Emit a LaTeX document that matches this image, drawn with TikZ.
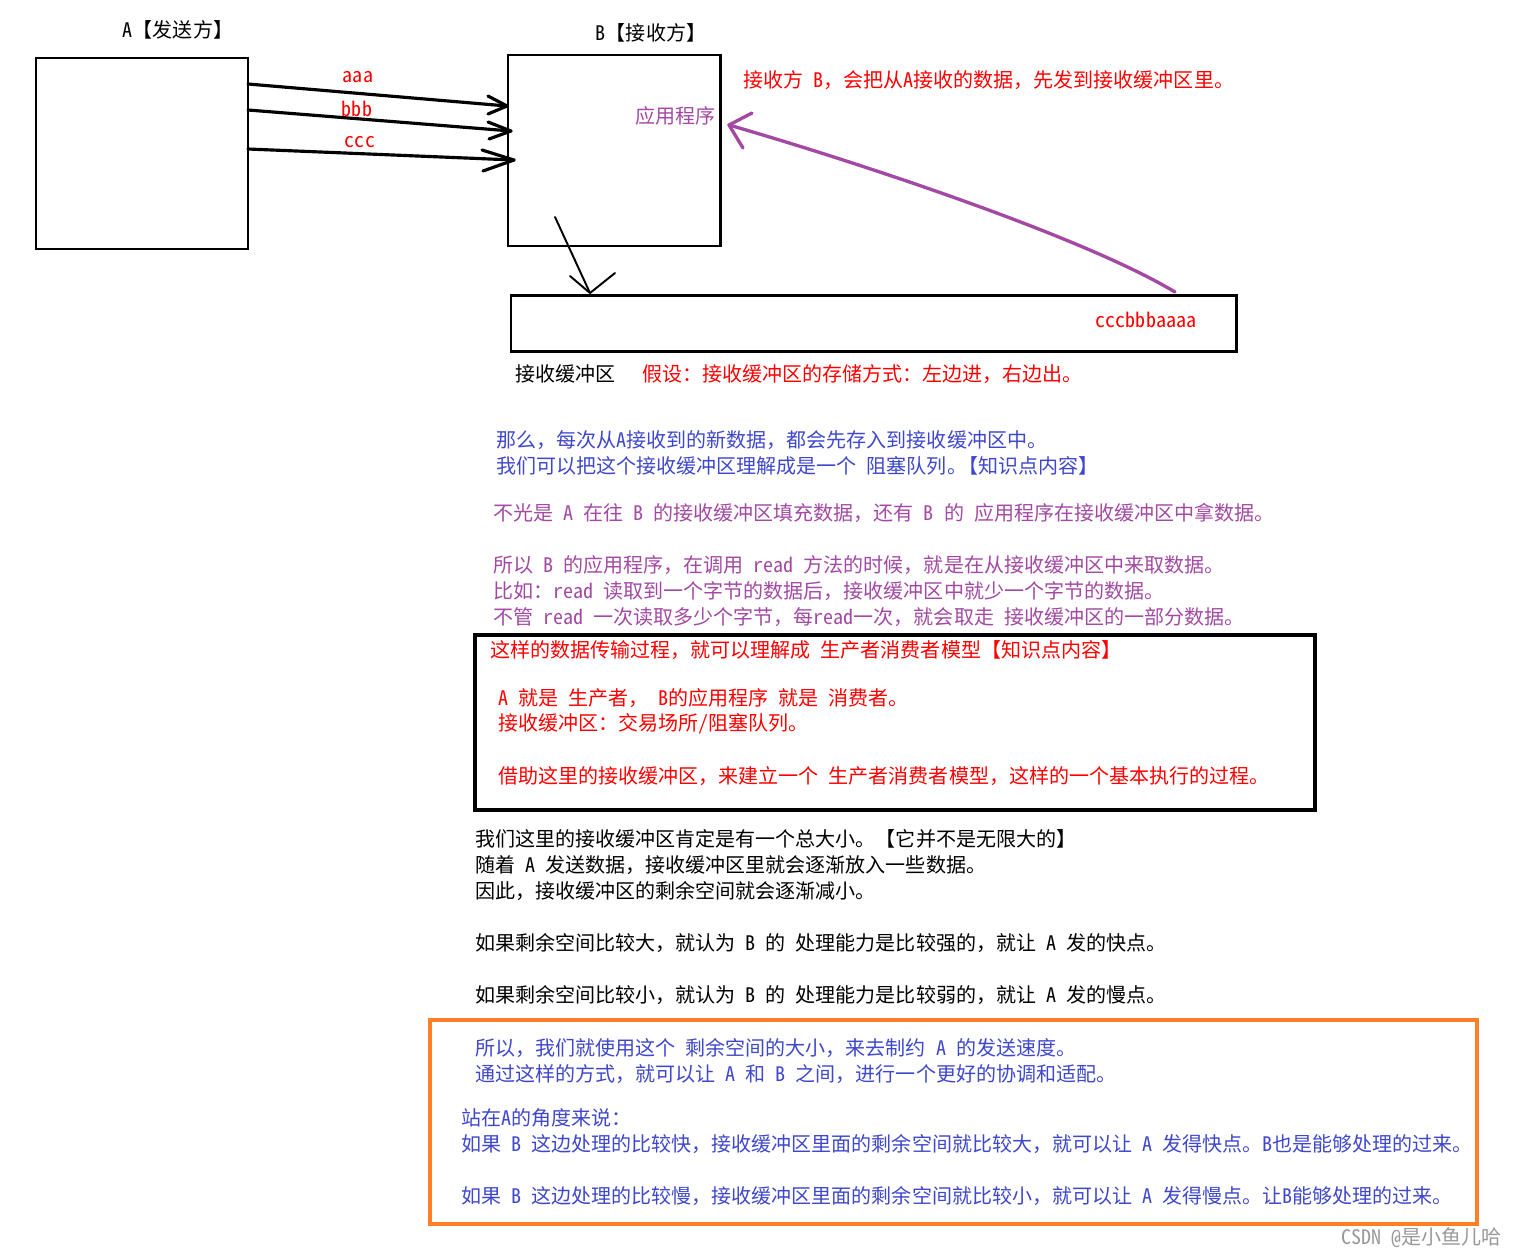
\documentclass[tikz,border=0pt]{standalone}
\usepackage{fontspec}
\setmainfont{Noto Sans CJK SC}[RawFeature=+hwid]
\newfontfamily\fullcjk{Noto Sans CJK SC}
\usetikzlibrary{arrows.meta}
\definecolor{pred}{HTML}{FF0000}
\definecolor{pblue}{HTML}{3F48CC}
\definecolor{ppurple}{HTML}{A349A4}
\definecolor{porange}{HTML}{FF7F27}
\newcommand\diagfont{\fontsize{11.4}{14}\selectfont\spaceskip=.5em\relax}
\catcode`，=\active
\def，{{\fullcjk\char"FF0C}}
\begin{document}
\begin{tikzpicture}[x=0.02cm,y=-0.02cm,
  txt/.style={anchor=west,inner sep=0pt,font=\diagfont},
  ctxt/.style={anchor=center,inner sep=0pt,font=\diagfont},
  thick box/.style={draw=black,line width=1.7pt},
  heavy box/.style={line width=2.4pt},
  shaft/.style={draw=black,line width=1.8pt,line cap=round,line join=round},
  thin shaft/.style={draw=black,line width=1.1pt,line cap=round,line join=round},
  purp/.style={draw=ppurple,line width=1.9pt,line cap=round,line join=round}]
\useasboundingbox (0,0) rectangle (1518,1258);
\fill[white] (0,0) rectangle (1518,1258);

% titles
\node[ctxt] (titleA) at (178,30) {A【发送方】};
\node[ctxt] (titleB) at (651,33) {B【接收方】};

% boxes
\draw[thick box] (36,58) rectangle (248,249);
\draw[thick box] (508,55) rectangle (720,246);
\draw[thick box] (511,295) rectangle (1236,351);

% data arrows A -> B
\coordinate (a1s) at (248,84);   \coordinate (a1t) at (507,106);
\coordinate (a1b1) at (488,96);  \coordinate (a1b2) at (488,114);
\coordinate (a2s) at (248,110);  \coordinate (a2t) at (511,131);
\coordinate (a2b1) at (488,122); \coordinate (a2b2) at (489,139);
\coordinate (a3s) at (248,149);  \coordinate (a3t) at (514,160);
\coordinate (a3b1) at (482,150); \coordinate (a3b2) at (483,171);
\draw[shaft] (a1s) -- (a1t);
\draw[shaft] (a1b1) -- (a1t) -- (a1b2);
\draw[shaft] (a2s) -- (a2t);
\draw[shaft] (a2b1) -- (a2t) -- (a2b2);
\draw[shaft] (a3s) -- (a3t);
\draw[shaft] (a3b1) -- (a3t) -- (a3b2);
\node[ctxt,text=pred] (laba) at (358,77) {aaa};
\node[ctxt,text=pred] (labb) at (357,109) {bbb};
\node[ctxt,text=pred] (labc) at (360,142) {ccc};

% B -> buffer arrow
\coordinate (ds) at (555,217); \coordinate (dt) at (590,293);
\coordinate (db1) at (570,276); \coordinate (db2) at (615,273);
\draw[thin shaft] (ds) -- (dt);
\draw[thin shaft] (db1) -- (dt) -- (db2);

% buffer -> app arrow (purple)
\coordinate (ps) at (1175,292); \coordinate (pt) at (729,125);
\coordinate (pb1) at (752,113); \coordinate (pb2) at (743,148);
\draw[purp] (ps) .. controls (1080,235) and (850,160) .. (pt);
\draw[purp] (pb1) -- (pt) -- (pb2);

\node[anchor=east,inner sep=0pt,font=\diagfont,text=ppurple] (app) at (716,116) {应用程序};
\node[txt,text=pred] (note1) at (743,80) {接收方 B，会把从A接收的数据，先发到接收缓冲区里。};
\node[ctxt,text=pred] (bufdata) at (1146,320) {cccbbbaaaa};
\node[txt] (buflabel) at (515,374) {接收缓冲区};
\node[txt,text=pred] (note2) at (642,374) {假设：接收缓冲区的存储方式：左边进，右边出。};

% blue lines
\node[txt,text=pblue] (b1) at (496,440) {那么，每次从A接收到的新数据，都会先存入到接收缓冲区中。};
\node[txt,text=pblue] (b2) at (496,466) {我们可以把这个接收缓冲区理解成是一个 阻塞队列。\hspace{-.45em}【知识点内容】};

% purple lines
\node[txt,text=ppurple] (p1) at (493,513) {不光是 A 在往 B 的接收缓冲区填充数据，还有 B 的 应用程序在接收缓冲区中拿数据。};
\node[txt,text=ppurple] (p2) at (493,565) {所以 B 的应用程序，在调用 read 方法的时候，就是在从接收缓冲区中来取数据。};
\node[txt,text=ppurple] (p3) at (493,591) {比如：read 读取到一个字节的数据后，接收缓冲区中就少一个字节的数据。};
\node[txt,text=ppurple] (p4) at (493,617) {不管 read 一次读取多少个字节，每read一次，就会取走 接收缓冲区的一部分数据。};

% black box
\draw[heavy box,draw=black] (475,635) rectangle (1315,810);
\node[txt,text=pred] (r1) at (490,650) {这样的数据传输过程，就可以理解成 生产者消费者模型【知识点内容】};
\node[txt,text=pred] (r2) at (498,698) {A 就是 生产者， B的应用程序 就是 消费者。};
\node[txt,text=pred] (r3) at (498,724) {接收缓冲区：交易场所/阻塞队列。};
\node[txt,text=pred] (r4) at (498,776) {借助这里的接收缓冲区，来建立一个 生产者消费者模型，这样的一个基本执行的过程。};

% black lines
\node[txt] (k1) at (475,839) {我们这里的接收缓冲区肯定是有一个总大小。【它并不是无限大的】};
\node[txt] (k2) at (475,865) {随着 A 发送数据，接收缓冲区里就会逐渐放入一些数据。};
\node[txt] (k3) at (475,891) {因此，接收缓冲区的剩余空间就会逐渐减小。};
\node[txt] (k4) at (475,943) {如果剩余空间比较大，就认为 B 的 处理能力是比较强的，就让 A 发的快点。};
\node[txt] (k5) at (475,995) {如果剩余空间比较小，就认为 B 的 处理能力是比较弱的，就让 A 发的慢点。};

% orange box
\draw[heavy box,draw=porange] (430,1020) rectangle (1477,1224);
\node[txt,text=pblue] (o1) at (475,1048) {所以，我们就使用这个 剩余空间的大小，来去制约 A 的发送速度。};
\node[txt,text=pblue] (o2) at (475,1074) {通过这样的方式，就可以让 A 和 B 之间，进行一个更好的协调和适配。};
\node[txt,text=pblue] (o3) at (461,1118) {站在A的角度来说：};
\node[txt,text=pblue] (o4) at (461,1144) {如果 B 这边处理的比较快，接收缓冲区里面的剩余空间就比较大，就可以让 A 发得快点。B也是能够处理的过来。};
\node[txt,text=pblue] (o5) at (461,1196) {如果 B 这边处理的比较慢，接收缓冲区里面的剩余空间就比较小，就可以让 A 发得慢点。让B能够处理的过来。};

\node[anchor=east,inner sep=0pt,font=\diagfont,text=black!40] (wm) at (1502,1238) {CSDN @是小鱼儿哈};
\end{tikzpicture}
\end{document}
